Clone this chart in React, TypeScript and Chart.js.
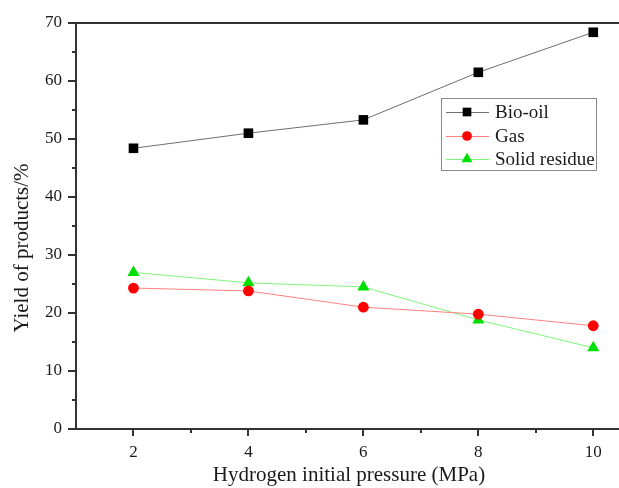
import { useEffect, useRef } from "react";
import { Chart, registerables } from "chart.js";

Chart.register(...registerables);

const pressures = [2, 4, 6, 8, 10];
const bioOil = [48.4, 51.0, 53.3, 61.5, 68.4];
const gas = [24.3, 23.8, 21.0, 19.8, 17.8];
const solidResidue = [27.0, 25.2, 24.5, 18.8, 14.0];
const seriesNames = ["Bio-oil", "Gas", "Solid residue"];
const xMajorTicks = [2, 4, 6, 8, 10];
const xMinorTicks = [3, 5, 7, 9];
const yMajorTicks = [0, 10, 20, 30, 40, 50, 60, 70];
const yMinorTicks = [5, 15, 25, 35, 45, 55, 65];
const xTitle = "Hydrogen initial pressure (MPa)";
const yTitle = "Yield of products/%";

const FONT = "'Liberation Serif', 'Times New Roman', serif";
const AXIS = "#333333";
const TEXT = "#1a1a1a";

function markerPath(ctx: CanvasRenderingContext2D, style: string, x: number, y: number, r: number) {
  ctx.beginPath();
  if (style === "rect") {
    const s = Math.SQRT1_2 * r;
    ctx.rect(x - s, y - s, 2 * s, 2 * s);
  } else if (style === "triangle") {
    let a = 0;
    ctx.moveTo(x + Math.sin(a) * r, y - Math.cos(a) * r);
    a += (2 * Math.PI) / 3;
    ctx.lineTo(x + Math.sin(a) * r, y - Math.cos(a) * r);
    a += (2 * Math.PI) / 3;
    ctx.lineTo(x + Math.sin(a) * r, y - Math.cos(a) * r);
    ctx.closePath();
  } else {
    ctx.arc(x, y, r, 0, Math.PI * 2);
  }
}

const framePlugin = {
  id: "frameTicks",
  afterDraw(chart: any) {
    const { ctx, chartArea } = chart;
    const xs = chart.scales.x;
    const ys = chart.scales.y;
    ctx.save();
    ctx.strokeStyle = AXIS;
    ctx.lineWidth = 2;
    ctx.strokeRect(chartArea.left, chartArea.top, chartArea.right - chartArea.left, chartArea.bottom - chartArea.top);
    ctx.beginPath();
    xMajorTicks.forEach((v) => {
      const px = Math.round(xs.getPixelForValue(v));
      ctx.moveTo(px, chartArea.bottom);
      ctx.lineTo(px, chartArea.bottom + 7);
    });
    xMinorTicks.forEach((v) => {
      const px = Math.round(xs.getPixelForValue(v));
      ctx.moveTo(px, chartArea.bottom);
      ctx.lineTo(px, chartArea.bottom + 4);
    });
    yMajorTicks.forEach((v) => {
      const py = Math.round(ys.getPixelForValue(v));
      ctx.moveTo(chartArea.left, py);
      ctx.lineTo(chartArea.left - 8, py);
    });
    yMinorTicks.forEach((v) => {
      const py = Math.round(ys.getPixelForValue(v));
      ctx.moveTo(chartArea.left, py);
      ctx.lineTo(chartArea.left - 4, py);
    });
    ctx.stroke();

    // x tick labels
    ctx.fillStyle = TEXT;
    ctx.font = `17px ${FONT}`;
    ctx.textAlign = "center";
    ctx.textBaseline = "alphabetic";
    xMajorTicks.forEach((v) => {
      ctx.fillText(String(v), xs.getPixelForValue(v), chartArea.bottom + 28);
    });

    // y-axis title
    ctx.save();
    ctx.translate(22, 248);
    ctx.rotate(-Math.PI / 2);
    ctx.fillStyle = TEXT;
    ctx.font = `21px ${FONT}`;
    ctx.textAlign = "center";
    ctx.textBaseline = "middle";
    ctx.fillText(yTitle, 0, 0);
    ctx.restore();

    // legend
    const bx = 441.5, by = 98.5, bw = 155, bh = 72;
    ctx.fillStyle = "#ffffff";
    ctx.fillRect(bx, by, bw, bh);
    ctx.strokeStyle = "#888888";
    ctx.lineWidth = 1;
    ctx.strokeRect(bx, by, bw, bh);
    const rows = [112, 136, 159];
    chart.data.datasets.forEach((ds: any, i: number) => {
      const y = rows[i];
      ctx.strokeStyle = ds.borderColor;
      ctx.lineWidth = 1;
      ctx.beginPath();
      ctx.moveTo(446, y + 0.5);
      ctx.lineTo(489, y + 0.5);
      ctx.stroke();
      ctx.fillStyle = ds.pointBackgroundColor;
      markerPath(ctx, ds.pointStyle, 467, y, ds.pointRadius * 0.9);
      ctx.fill();
      ctx.fillStyle = TEXT;
      ctx.font = `19px ${FONT}`;
      ctx.textBaseline = "middle";
      ctx.textAlign = "left";
      ctx.fillText(ds.label, 495, y + 1);
    });
    ctx.restore();
  },
};

export default function App() {
  const ref = useRef<HTMLCanvasElement | null>(null);
  useEffect(() => {
    if (!ref.current) return;
    const mk = (label: string, data: number[], line: string, fill: string, style: string, r: number) => ({
      label,
      data: pressures.map((p, i) => ({ x: p, y: data[i] })),
      borderColor: line,
      borderWidth: 1,
      pointBackgroundColor: fill,
      pointBorderColor: fill,
      pointBorderWidth: 0,
      pointStyle: style,
      pointRadius: r,
      pointHoverRadius: r,
      tension: 0,
    });
    const chart = new Chart(ref.current, {
      type: "line",
      data: {
        datasets: [
          mk(seriesNames[0], bioOil, "#6e6e6e", "#000000", "rect", 6.8),
          mk(seriesNames[1], gas, "#ff8080", "#ff0000", "circle", 5.4),
          mk(seriesNames[2], solidResidue, "#7cf57c", "#00e000", "triangle", 7),
        ] as any,
      },
      options: {
        animation: false,
        responsive: false,
        layout: { autoPadding: false, padding: { top: 23, left: 0, right: 0, bottom: 0 } },
        plugins: { legend: { display: false }, tooltip: { enabled: false } },
        scales: {
          x: {
            type: "linear",
            min: 1,
            max: 10.5,
            afterFit: (s: any) => { s.height = 59; s.paddingRight = 0; s.paddingLeft = 0; },
            afterBuildTicks: (s: any) => { s.ticks = xMajorTicks.map((v) => ({ value: v })); },
            grid: { display: false },
            border: { display: false },
            ticks: { display: false },
            title: { display: true, text: xTitle, color: TEXT, font: { family: FONT, size: 21 }, padding: { top: 0, bottom: 0 } },
          },
          y: {
            type: "linear",
            min: 0,
            max: 70,
            afterFit: (s: any) => { s.width = 76; s.paddingTop = 0; s.paddingBottom = 0; },
            afterBuildTicks: (s: any) => { s.ticks = yMajorTicks.map((v) => ({ value: v })); },
            grid: { display: true, drawOnChartArea: false, drawTicks: true, tickLength: 8, tickColor: "rgba(0,0,0,0)" },
            border: { display: false },
            ticks: { padding: 6, color: TEXT, font: { family: FONT, size: 17 }, autoSkip: false },
            title: { display: false },
          },
        },
      } as any,
      plugins: [framePlugin],
    });
    return () => chart.destroy();
  }, []);
  return (
    <div style={{ position: "fixed", left: 0, top: 0, width: 619, height: 488, overflow: "hidden", background: "#fff" }}>
      <canvas ref={ref} width={622} height={488} style={{ display: "block" }} />
    </div>
  );
}
